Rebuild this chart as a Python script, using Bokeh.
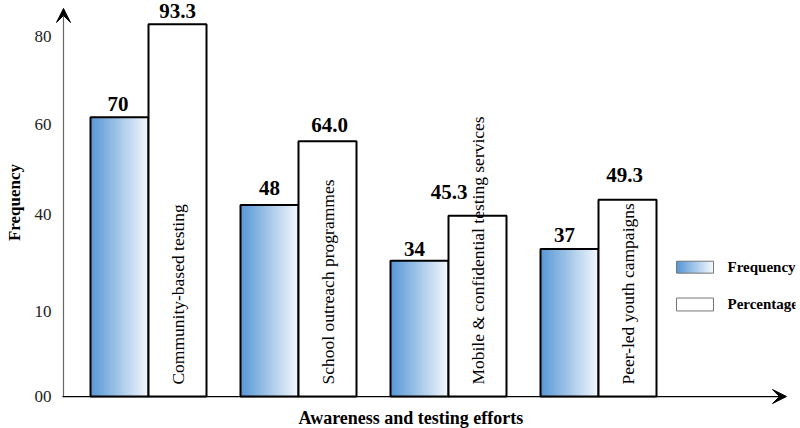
import math
import numpy as np
from bokeh.plotting import figure
from bokeh.models import Range1d, FixedTicker, Arrow, VeeHead, Label, Title
from bokeh.core.properties import value
from bokeh.embed import file_html
from bokeh.resources import INLINE

# ---------------- data ----------------
categories = ["Community-based testing", "School outreach programmes",
              "Mobile & confidential testing services", "Peer-led youth campaigns"]
frequency = [70, 48, 34, 37]
percentage = [93.3, 64.0, 45.3, 49.3]
tick_positions = [0, 21.2, 45.6, 68.1, 90.3]
tick_labels = ["00", "10", "40", "60", "80"]
series_names = ["Frequency", "Percentage"]
x_title = "Awareness and testing efforts"
y_title = "Frequency"

# ---------------- layout helpers (pixels) ----------------
W, H = 800, 428
FL, FR, FT, FB = 55, 795, 0, 406   # frame edges in px
BASE = 398                          # px of value 0
PXU_Y = 4.01                        # px per value unit
PXU_X = 150.0                       # px per category step
X0PX = 148                          # px of first category centre
BW = 58 / PXU_X                     # bar width in x units
SERIF = "Liberation Serif"
# hand placement of the value labels (px shift, px gap above bar)
freq_label_dx = [-1.5, 0, -5, -5]
freq_label_gap = [7, 11, 6, 8]
pct_label_dx = [0, 2, -28.5, -3]
pct_label_gap = [7, 10, 18, 19]


def dx(px):
    return (px - X0PX) / PXU_X


def dy(py):
    return (BASE - py) / PXU_Y


p = figure(width=W, height=H, output_backend="svg", toolbar_location=None,
           x_range=Range1d(dx(FL), dx(FR)), y_range=Range1d(dy(FB), dy(FT)),
           min_border_left=FL, min_border_right=W - FR,
           min_border_top=FT, min_border_bottom=H - FB)
p.outline_line_color = None
p.grid.visible = False
p.xaxis.visible = False
p.background_fill_color = "white"

yax = p.yaxis[0]
yax.ticker = FixedTicker(ticks=tick_positions)
yax.major_label_overrides = {t: l for t, l in zip(tick_positions, tick_labels)}
yax.axis_line_color = None
yax.major_tick_line_color = None
yax.minor_tick_line_color = None
yax.major_tick_out = 0
yax.major_tick_in = 0
yax.major_label_standoff = 4
yax.major_label_text_font = SERIF
yax.major_label_text_font_size = "17px"
yax.major_label_text_color = "#222222"
yax.axis_label = y_title
yax.axis_label_standoff = 8
yax.axis_label_text_font = SERIF
yax.axis_label_text_font_style = "bold"
yax.axis_label_text_font_size = "17px"
yax.axis_label_text_color = "black"

# ---------------- gradient frequency bars ----------------
N = 48
c0 = np.array([88, 152, 214])
c1 = np.array([243, 248, 253])


def grad_color(t):
    c = (c0 + (c1 - c0) * t).astype(int)
    return "#%02x%02x%02x" % tuple(c)


gl, gr, gt, gb, gc = [], [], [], [], []
xs = list(range(len(categories)))
for i, f in zip(xs, frequency):
    left = i - BW
    sw = BW / N
    for k in range(N):
        gl.append(left + k * sw)
        gr.append(min(left + (k + 1.6) * sw, i))
        gt.append(f)
        gb.append(0)
        gc.append(grad_color(k / (N - 1)))
p.quad(left=gl, right=gr, top=gt, bottom=gb, fill_color=gc, line_color=None)
p.quad(left=[i - BW for i in xs], right=xs, top=frequency, bottom=0,
       fill_color=None, line_color="black", line_width=2)

# ---------------- percentage bars ----------------
p.quad(left=xs, right=[i + BW for i in xs], top=percentage, bottom=0,
       fill_color="white", line_color="black", line_width=2)

# ---------------- value labels ----------------
p.text(x=[i - BW / 2 + s / PXU_X for i, s in zip(xs, freq_label_dx)],
       y=[v + (g - 1) / PXU_Y for v, g in zip(frequency, freq_label_gap)],
       text=[str(v) for v in frequency],
       text_align="center", text_baseline="bottom",
       text_font=value(SERIF), text_font_style="bold", text_font_size="21px",
       text_color="black")
p.text(x=[i + BW / 2 + s / PXU_X for i, s in zip(xs, pct_label_dx)],
       y=[v + (g - 1) / PXU_Y for v, g in zip(percentage, pct_label_gap)],
       text=["%.1f" % v for v in percentage],
       text_align="center", text_baseline="bottom",
       text_font=value(SERIF), text_font_style="bold", text_font_size="21px",
       text_color="black")

# ---------------- category labels inside percentage bars ----------------
p.text(x=[i + BW / 2 for i in xs], y=[dy(386)] * len(xs), text=categories,
       angle=math.pi / 2, text_align="left", text_baseline="middle",
       text_font=value(SERIF), text_font_size="17.5px", text_color="black")

# ---------------- axes arrows ----------------
p.add_layout(Arrow(end=VeeHead(size=14, fill_color="black", line_color="black"),
                   x_start=dx(63), y_start=0, x_end=dx(63), y_end=dy(8),
                   line_color="#666666", line_width=1.2))
p.add_layout(Arrow(end=VeeHead(size=14, fill_color="black", line_color="black"),
                   x_start=dx(62), y_start=0, x_end=dx(786), y_end=0,
                   line_color="black", line_width=1.2))

# ---------------- x title ----------------
p.add_layout(Title(text=x_title, align="left", offset=298 - FL, standoff=2,
                   text_font=SERIF, text_font_style="bold", text_font_size="18px",
                   text_color="black"), "below")

# ---------------- legend ----------------
LN = 24
sl, sr, st, sb, sc = [], [], [], [], []
lx0, lx1 = dx(676), dx(713)
for k in range(LN):
    sw = (lx1 - lx0) / LN
    sl.append(lx0 + k * sw)
    sr.append(min(lx0 + (k + 1.6) * sw, lx1))
    st.append(dy(262))
    sb.append(dy(274))
    sc.append(grad_color(k / (LN - 1)))
p.quad(left=sl, right=sr, top=st, bottom=sb, fill_color=sc, line_color=None)
p.quad(left=[lx0, lx0], right=[lx1, lx1], top=[dy(262), dy(299)],
       bottom=[dy(274), dy(312)], fill_color=[None, "white"],
       line_color="#777777", line_width=1)
for name, ypx in zip(series_names, [268, 305]):
    p.add_layout(Label(x=dx(727), y=dy(ypx), text=name,
                       text_align="left", text_baseline="middle",
                       text_font=SERIF, text_font_style="bold", text_font_size="15px",
                       text_color="black"))

open("out.html", "w").write(file_html(p, INLINE))
